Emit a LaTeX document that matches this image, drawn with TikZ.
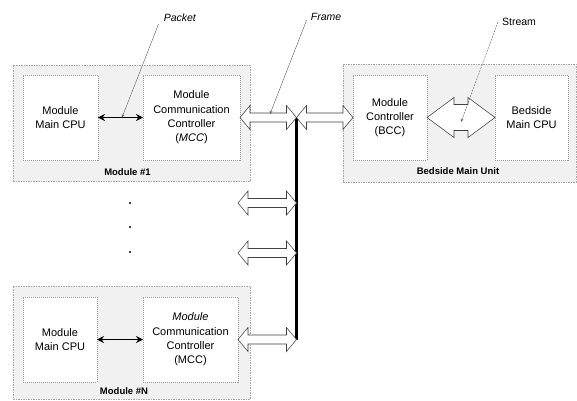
\documentclass[tikz,border=0pt]{standalone}
\usepackage{fontspec}
\setmainfont{Liberation Sans}
\usetikzlibrary{arrows.meta,calc}
\newcommand\hollowarr[5]{%
  \draw[hollow] let \p1=(#1), \p2=(#2) in
    (\x1,\y1) -- (\x1+#5pt,\y1+#3pt) -- (\x1+#5pt,\y1+#4pt) -- (\x2-#5pt,\y1+#4pt)
    -- (\x2-#5pt,\y1+#3pt) -- (\x2,\y1) -- (\x2-#5pt,\y1-#3pt) -- (\x2-#5pt,\y1-#4pt)
    -- (\x1+#5pt,\y1-#4pt) -- (\x1+#5pt,\y1-#3pt) -- cycle;}
\begin{document}
\begin{tikzpicture}[x=1pt,y=-1pt,
  outerbox/.style={draw=gray!70, dash pattern=on 1.5pt off 1pt, line width=0.6pt, fill=gray!11, inner sep=0pt, outer sep=0pt},
  innerbox/.style={draw=gray!80, dash pattern=on 1pt off 1pt, line width=0.6pt, fill=white, inner sep=0pt, outer sep=0pt, align=center, font=\fontsize{11}{14.3}\selectfont},
  hollow/.style={draw=black!75, line width=0.55pt, fill=white, line join=miter},
  leader/.style={draw=black!60, line width=0.45pt, -{Stealth[length=3.5pt,width=3pt]}},
  cpuarrow/.style={draw=black, line width=1.8pt, {Stealth[length=7pt,width=7pt]}-{Stealth[length=7pt,width=7pt]}},
  busline/.style={draw=black, line width=3pt},
  boldlabel/.style={font=\bfseries\fontsize{9.5}{11}\selectfont, inner sep=0pt},
  lbl/.style={font=\fontsize{10.5}{12}\selectfont, inner sep=1pt}]
\useasboundingbox (0,0) rectangle (577,400);

% outer boxes
\node[outerbox, minimum width=237pt, minimum height=116pt] (m1) at (131.5,123) {};
\node[outerbox, minimum width=233pt, minimum height=118pt] (bmu) at (459.5,123) {};
\node[outerbox, minimum width=237pt, minimum height=113pt] (mn) at (131.5,342.5) {};

% inner boxes
\node[innerbox, minimum width=75pt, minimum height=85pt] (cpu1) at (60.5,117.5) {Module\\Main CPU};
\node[innerbox, minimum width=97pt, minimum height=85pt] (mcc1) at (191.5,117.5) {Module\\Communication\\Controller\\(\textit{MCC})};
\node[innerbox, minimum width=74pt, minimum height=85pt] (bcc) at (390,117.5) {Module\\Controller\\(BCC)};
\node[innerbox, minimum width=73pt, minimum height=85pt] (bcpu) at (531.5,117.5) {Bedside\\Main CPU};
\node[innerbox, minimum width=74pt, minimum height=85pt] (cpun) at (60,339.5) {Module\\Main CPU};
\node[innerbox, minimum width=95pt, minimum height=85pt] (mccn) at (190.5,339.5) {\textit{Module}\\Communication\\Controller\\(MCC)};

% box labels
\node[boldlabel] (l1) at (127.5,172) {Module \#1};
\node[boldlabel] (lb) at (458,171) {Bedside Main Unit};
\node[boldlabel] (ln) at (124,391) {Module \#N};

% dots
\foreach \yy/\nm in {203/d1,227/d2,252/d3}
  \node[circle, fill=black, inner sep=0pt, minimum size=2.4pt] (\nm) at (130,\yy) {};

% bus
\coordinate (bustop) at (296.5,117.5);
\coordinate (busa) at (296.5,203);
\coordinate (busb) at (296.5,253);
\coordinate (busbot) at (296.5,339.5);
\coordinate (fa) at (238,203);
\coordinate (fb) at (238,253);
\draw[busline] (296,118) coordinate (bt) -- (296,340) coordinate (bb);

% hollow arrows
\hollowarr{mcc1.east}{bustop}{12}{4.5}{10}
\hollowarr{bustop}{bcc.west}{12}{4.5}{10}
\hollowarr{fa}{busa}{12}{4.5}{10}
\hollowarr{fb}{busb}{12}{4.5}{10}
\hollowarr{mccn.east}{busbot}{12}{4.5}{10}
\hollowarr{bcc.east}{bcpu.west}{20}{13}{27}

% CPU arrows
\draw[cpuarrow] (cpu1.east) -- (mcc1.west);
\draw[cpuarrow] (cpun.east) -- (mccn.west);

% labels and leaders
\node[lbl] (packet) at (180,18) {\textit{Packet}};
\node[lbl] (frame) at (326,17) {\textit{Frame}};
\node[lbl] (stream) at (519,22) {Stream};
\coordinate (pk) at (122,117.5);
\coordinate (fr) at (270,114);
\coordinate (st) at (461,122);
\draw[leader] ([xshift=-4pt,yshift=-1pt]packet.south west) -- (pk);
\draw[leader] ([xshift=-3pt,yshift=-3pt]frame.west) -- (fr);
\draw[leader, dash pattern=on 2pt off 1pt] ([xshift=-3pt]stream.west) -- (st);
\end{tikzpicture}
\end{document}
